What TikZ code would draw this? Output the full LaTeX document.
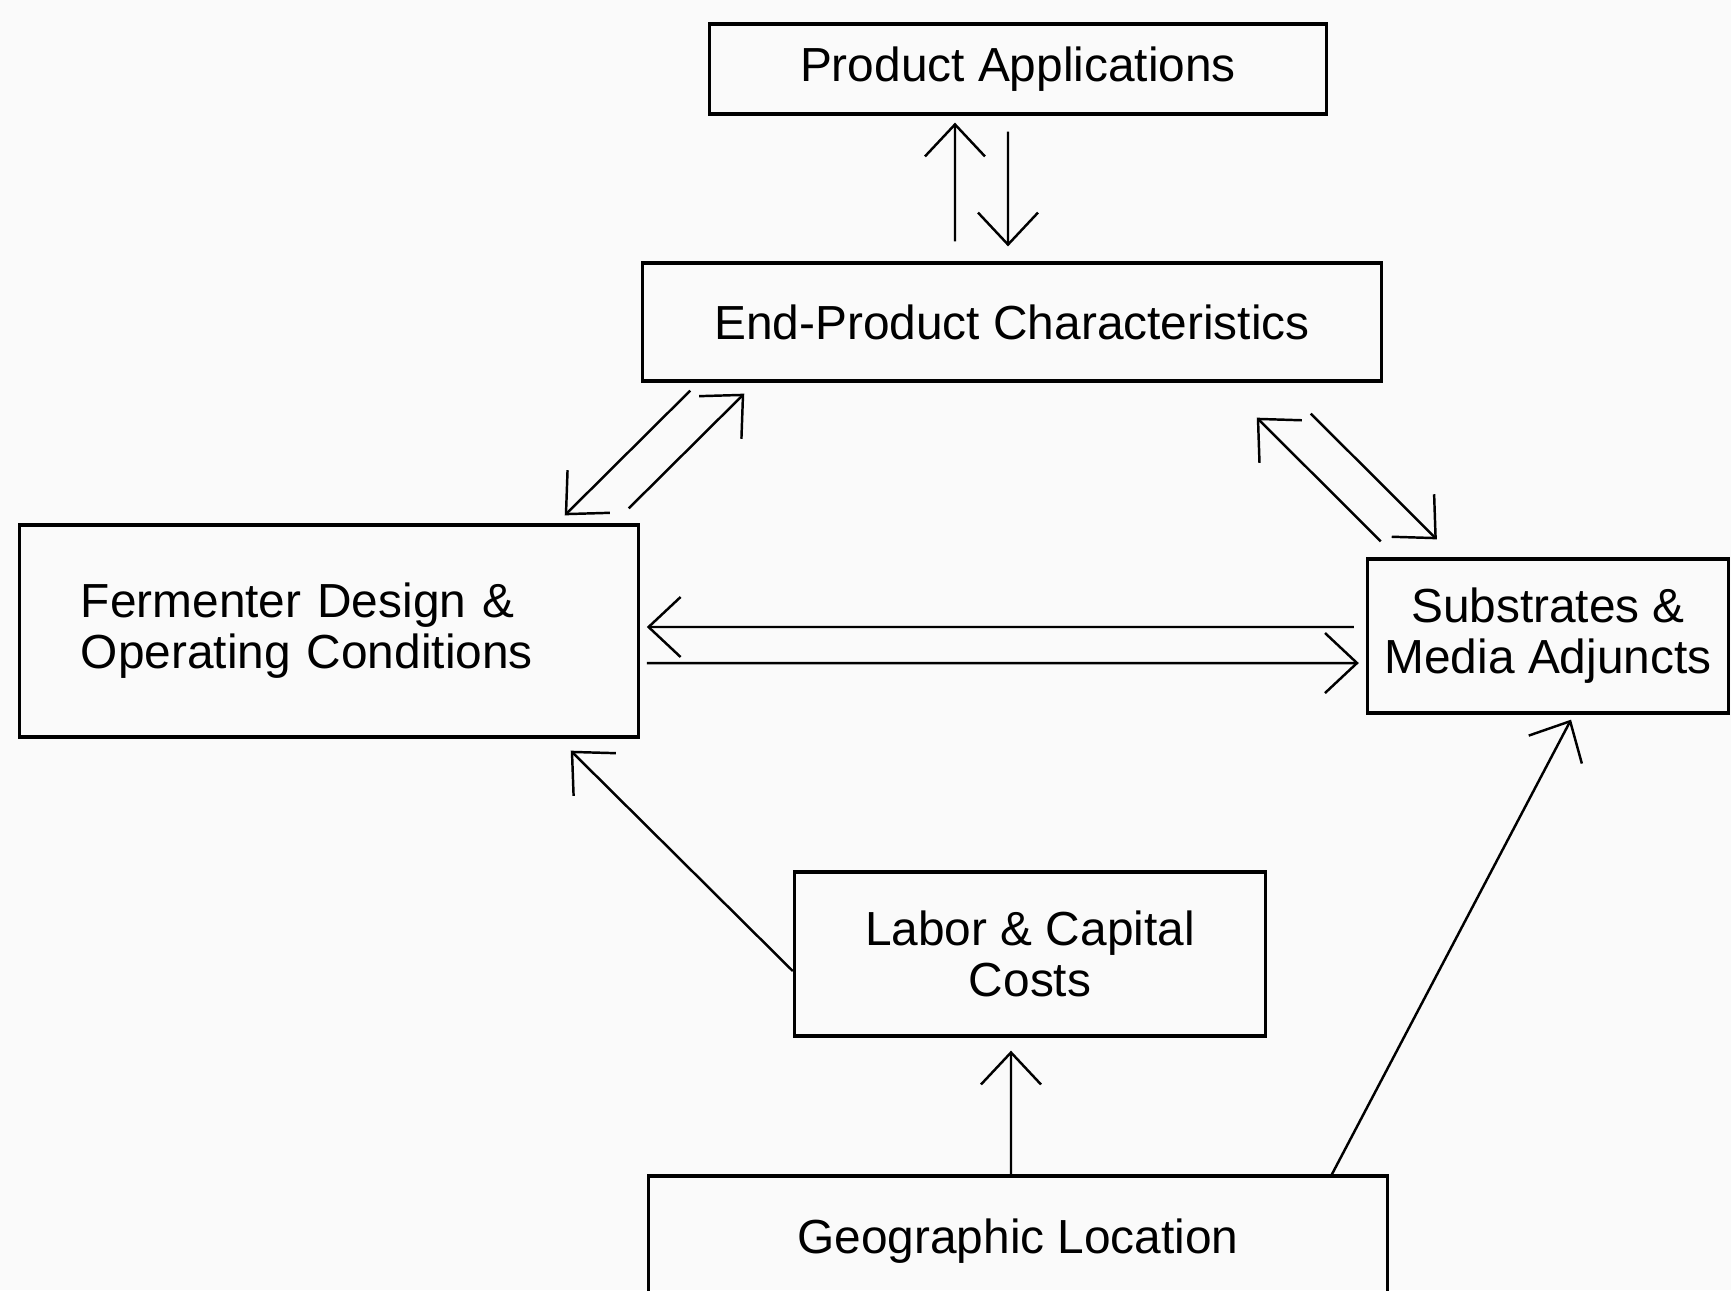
\documentclass[tikz,border=0pt]{standalone}
\usepackage{fontspec}
\setmainfont{Liberation Sans}
\usetikzlibrary{arrows.meta}

\begin{document}
\begin{tikzpicture}[x=0.01cm,y=-0.01cm,
  box/.style={draw, line width=0.9pt, inner sep=0pt, align=center,
    font=\fontsize{13.6}{14.5}\selectfont},
  arr/.style={line width=0.7pt, -{Straight Barb[length=3.2mm,width=6mm]}}]
\fill[gray!4] (0,0) rectangle (1731,1290);
\useasboundingbox (0,0) rectangle (1731,1290);

\node[box, minimum width=6.16cm, minimum height=0.90cm] (prodapp) at (1018,69) {Product Applications};
\node[box, minimum width=7.38cm, minimum height=1.18cm] (endprod) at (1012,322) {End-Product Characteristics};
\node[box, minimum width=6.18cm, minimum height=2.12cm, text width=4.96cm, inner xsep=0.61cm, align=left] (ferm) at (329,631) {Fermenter Design \&\\Operating Conditions};
\node[box, minimum width=3.61cm, minimum height=1.54cm] (subs) at (1548,636) {Substrates \&\\Media Adjuncts};
\node[box, minimum width=4.71cm, minimum height=1.64cm] (labor) at (1030,954) {Labor \& Capital\\Costs};
\node[box, minimum width=7.39cm, minimum height=1.30cm] (geo) at (1018,1241) {Geographic Location};

\path[draw,arr] ([xshift=-0.57cm,yshift=0.20cm]endprod.north) -- ([xshift=-0.63cm,yshift=-0.07cm]prodapp.south);
\path[draw,arr] ([xshift=-0.10cm,yshift=-0.16cm]prodapp.south) -- ([xshift=-0.04cm,yshift=0.15cm]endprod.north);
\path[draw,arr] ([xshift=0.49cm,yshift=-0.08cm]endprod.south west) -- ([xshift=-0.75cm,yshift=0.08cm]ferm.north east);
\path[draw,arr] ([xshift=-0.11cm,yshift=0.15cm]ferm.north east) -- ([xshift=1.03cm,yshift=-0.11cm]endprod.south west);
\path[draw,arr] ([xshift=0.15cm,yshift=0.16cm]subs.north west) -- ([xshift=-1.26cm,yshift=-0.35cm]endprod.south east);
\path[draw,arr] ([xshift=-0.72cm,yshift=-0.31cm]endprod.south east) -- ([xshift=0.71cm,yshift=0.18cm]subs.north west);
\path[draw,arr] ([xshift=-0.12cm,yshift=0.09cm]subs.west) -- ([xshift=0.07cm,yshift=0.04cm]ferm.east);
\path[draw,arr] ([xshift=0.07cm,yshift=-0.32cm]ferm.east) -- ([xshift=-0.07cm,yshift=-0.27cm]subs.west);
\path[draw,arr] ([yshift=-0.17cm]labor.west) -- ([xshift=-0.69cm,yshift=-0.12cm]ferm.south east);
\path[draw,arr] ([xshift=-0.07cm]geo.north) -- ([xshift=-0.19cm,yshift=-0.13cm]labor.south);
\path[draw,arr] ([xshift=-0.59cm,yshift=-0.03cm]geo.north east) -- ([xshift=0.23cm,yshift=-0.05cm]subs.south);
\end{tikzpicture}
\end{document}
